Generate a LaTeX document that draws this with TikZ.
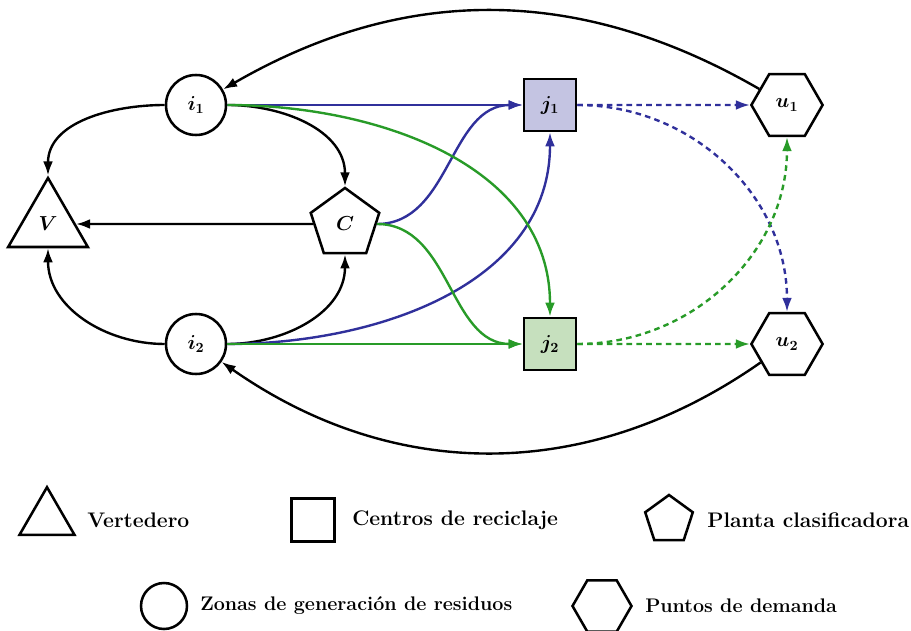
\documentclass[tikz,border=0pt]{standalone}
\usepackage{amsmath}
\usetikzlibrary{shapes.geometric,arrows.meta}
\definecolor{azul}{RGB}{48,48,155}
\definecolor{verde}{RGB}{40,155,40}
\definecolor{lila}{RGB}{196,196,226}
\definecolor{verdeclaro}{RGB}{198,224,190}
\tikzset{
  >={Latex[length=10pt,width=7pt]},
  zona/.style={draw,circle,line width=1.8pt,minimum size=1.5cm,inner sep=0pt,font=\Large\boldmath},
  centro/.style={draw,rectangle,line width=1.8pt,minimum size=1.3cm,inner sep=0pt,font=\Large\boldmath},
  planta/.style={draw,regular polygon,regular polygon sides=5,line width=1.8pt,minimum size=1.8cm,inner sep=0pt,font=\Large\boldmath},
  verte/.style={draw,regular polygon,regular polygon sides=3,line width=1.8pt,minimum size=2.3cm,inner sep=0pt,font=\Large\boldmath},
  demanda/.style={draw,regular polygon,regular polygon sides=6,line width=1.8pt,minimum size=1.78cm,inner sep=0pt,font=\Large\boldmath},
  flujo/.style={->,line width=1.7pt},
  eti/.style={anchor=west,inner sep=0pt,font=\fontsize{15}{18}\selectfont\bfseries},
  eti2/.style={anchor=west,inner sep=0pt,font=\fontsize{14}{17}\selectfont\bfseries},
}
\begin{document}
\begin{tikzpicture}[x=1cm,y=1cm]
\useasboundingbox (0,0) rectangle (22.775,15.75);
\node[zona] (i1) at (4.9,13.125) {$i_1$};
\node[zona] (i2) at (4.9,7.15) {$i_2$};
\node[verte] (V) at (1.2,10.15) {$V$};
\node[planta] (C) at (8.625,10.15) {$C$};
\node[centro,fill=lila] (j1) at (13.75,13.125) {$j_1$};
\node[centro,fill=verdeclaro] (j2) at (13.75,7.15) {$j_2$};
\node[demanda] (u1) at (19.675,13.125) {$u_1$};
\node[demanda] (u2) at (19.675,7.15) {$u_2$};
\draw[flujo] (u1) to[out=150,in=30] (i1);
\draw[flujo] (u2) to[out=215,in=-35] (i2);
\draw[flujo] (i1) to[out=180,in=90] (V);
\draw[flujo] (i1) to[out=0,in=90] (C);
\draw[flujo] (i2) to[out=180,in=-90] (V);
\draw[flujo] (i2) to[out=0,in=-90] (C);
\draw[flujo] (C) -- (V);
\draw[flujo,azul] (i1) -- (j1);
\draw[flujo,azul] (C) to[out=0,in=180] (j1);
\draw[flujo,azul] (i2) to[out=0,in=-90] (j1);
\draw[flujo,verde] (i1) to[out=0,in=90] (j2);
\draw[flujo,verde] (C) to[out=0,in=180] (j2);
\draw[flujo,verde] (i2) -- (j2);
\draw[flujo,azul,dash pattern=on 4pt off 3pt] (j1) -- (u1);
\draw[flujo,azul,dash pattern=on 4pt off 3pt] (j1) to[out=0,in=90] (u2);
\draw[flujo,verde,dash pattern=on 4pt off 3pt] (j2) -- (u2);
\draw[flujo,verde,dash pattern=on 4pt off 3pt] (j2) to[out=0,in=-90] (u1);
\node[verte,minimum size=1.59cm] (lv) at (1.175,2.775) {};
\node[eti] (tv) at (2.175,2.75) {Vertedero};
\node[centro,minimum size=1.075cm] (lj) at (7.825,2.75) {};
\node[eti] (tj) at (8.8,2.75) {Centros de reciclaje};
\node[planta,minimum size=1.25cm] (lc) at (16.725,2.75) {};
\node[eti] (tc) at (17.675,2.75) {Planta clasificadora};
\node[zona,minimum size=1.15cm] (li) at (4.1,0.6) {};
\node[eti2] (ti) at (5.0,0.6) {Zonas de generación de residuos};
\node[demanda,minimum size=1.475cm] (lu) at (15.05,0.6) {};
\node[eti2] (tu) at (16.125,0.6) {Puntos de demanda};
\end{tikzpicture}
\end{document}
